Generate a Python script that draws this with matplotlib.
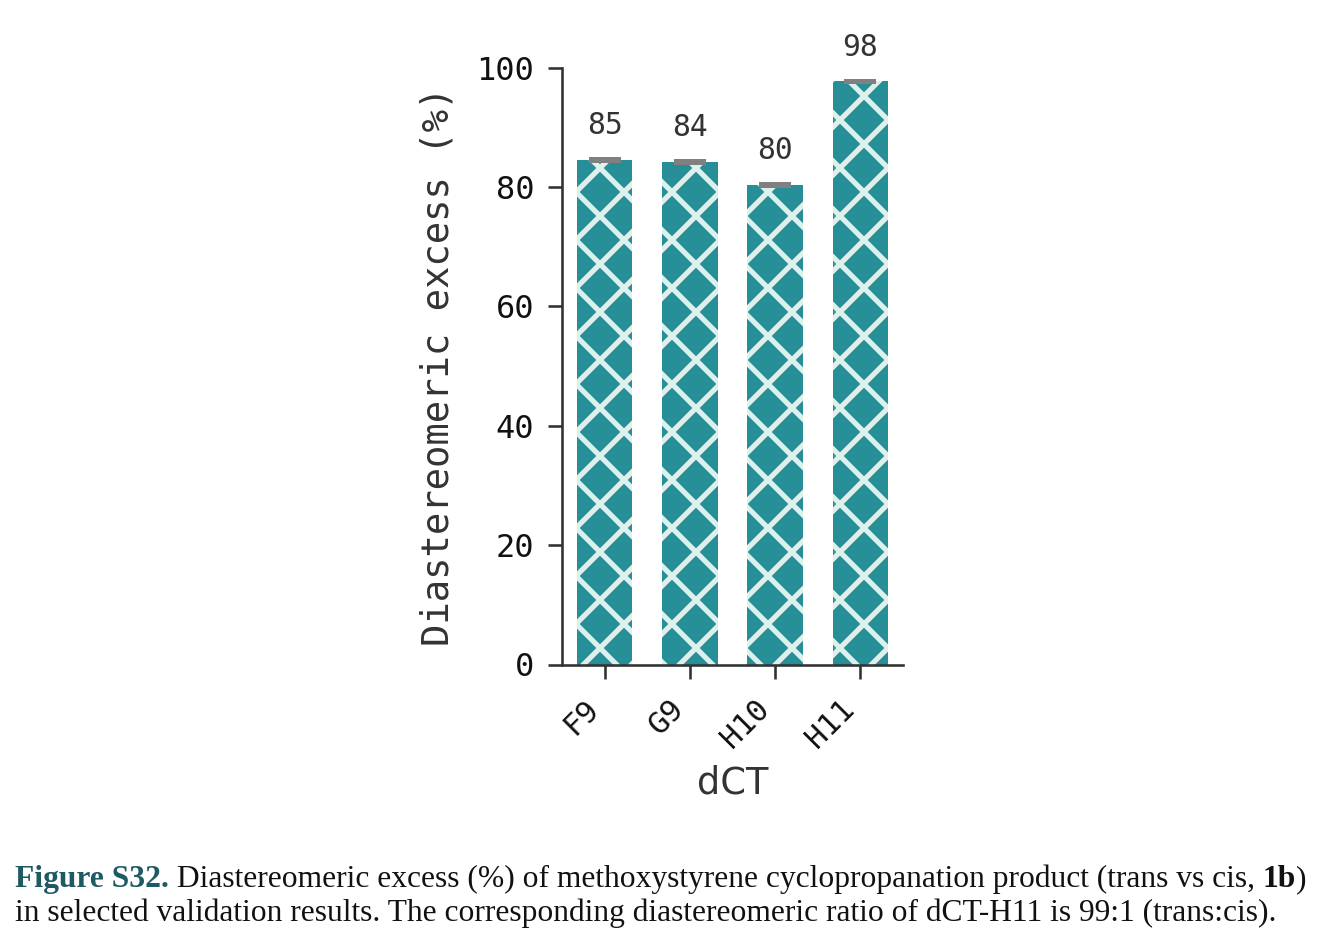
import matplotlib
matplotlib.use("Agg")
import matplotlib.pyplot as plt

# ---------------------------------------------------------------- data
variants = ["F9", "G9", "H10", "H11"]
de_mean = [84.6, 84.2, 80.3, 97.7]   # diastereomeric excess, %
de_err = [0.15, 0.15, 0.15, 0.15]
yticks = [0, 20, 40, 60, 80, 100]

caption_1 = [("Figure S32.", "bold", "#1d5a63"),
             (" Diastereomeric excess (%) of methoxystyrene cyclopropanation "
              "product (trans vs cis, ", "normal", "#111111"),
             ("1b", "bold", "#111111"),
             (")", "normal", "#111111")]
caption_2 = [("in selected validation results. The corresponding diastereomeric "
              "ratio of dCT-H11 is 99:1 (trans:cis).", "normal", "#111111")]

TEAL = "#268e97"
HATCH = "#def0eb"
MONO = "DejaVu Sans Mono"
SERIF = "Liberation Serif"

plt.rcParams.update({
    "hatch.linewidth": 1.3,
    "axes.linewidth": 0.65,
    "xtick.major.width": 0.65,
    "ytick.major.width": 0.65,
    "xtick.major.size": 3.5,
    "ytick.major.size": 3.5,
})

DPI = 288
W, H = 1323, 946
fig = plt.figure(figsize=(W / DPI, H / DPI), dpi=DPI)
ax = fig.add_axes([562 / W, 1 - 664.5 / H,
                   (903 - 562) / W, (664.5 - 67.7) / H])

x = range(len(variants))
ax.bar(x, de_mean, width=0.65, color=TEAL, edgecolor=HATCH, linewidth=0,
       hatch="xx", zorder=2)
ax.errorbar(x, de_mean, yerr=de_err, fmt="none", ecolor="#808080",
            elinewidth=1.0, capsize=3.9, capthick=1.0, zorder=3)
for xi, v in zip(x, de_mean):
    ax.annotate(f"{v:.0f}", (xi, v), xytext=(0, 8.6), textcoords="offset points",
                ha="center", va="center", fontsize=7.4, family=MONO,
                color="#333333")

ax.set_xlim(-0.5, 3.5)
ax.set_ylim(0, 100)
ax.set_yticks(yticks)
ax.set_yticklabels([str(t) for t in yticks], family=MONO, fontsize=8)
ax.set_xticks(list(x))
ax.set_xticklabels(variants, family=MONO, fontsize=7.6, rotation=45,
                   ha="right", color="#222222")
for s in ("top", "right"):
    ax.spines[s].set_visible(False)
for s in ("left", "bottom"):
    ax.spines[s].set_color("#333333")
ax.tick_params(colors="#333333", labelcolor="#111111")
ax.tick_params(axis="x", pad=3.8)
ax.set_ylabel("Diastereomeric excess (%)", family=MONO, fontsize=9.3,
              color="#333333", labelpad=5)
ax.set_xlabel("dCT", family="DejaVu Sans", fontsize=9.2, color="#333333",
              labelpad=3)

# caption: runs of mixed weight/colour laid out left to right
fig.canvas.draw()
renderer = fig.canvas.get_renderer()
inv = fig.transFigure.inverted()


def put_line(runs, x0, y0, size):
    xpos = x0
    for txt, weight, col in runs:
        t = fig.text(xpos, y0, txt, fontsize=size, weight=weight, color=col,
                     family=SERIF, ha="left", va="baseline")
        bb = t.get_window_extent(renderer)
        xpos = inv.transform((bb.x1, bb.y1))[0]
    return xpos


# size the caption so line 1 spans the same width as the reference
probe = put_line(caption_1, 0, -1, 7.0)
for t in list(fig.texts):
    t.remove()
size = 7.0 * (1292 / W) / probe
put_line(caption_1, 15 / W, 1 - 887 / H, size)
put_line(caption_2, 15 / W, 1 - 921 / H, size)

fig.savefig("out.png", dpi=DPI)
